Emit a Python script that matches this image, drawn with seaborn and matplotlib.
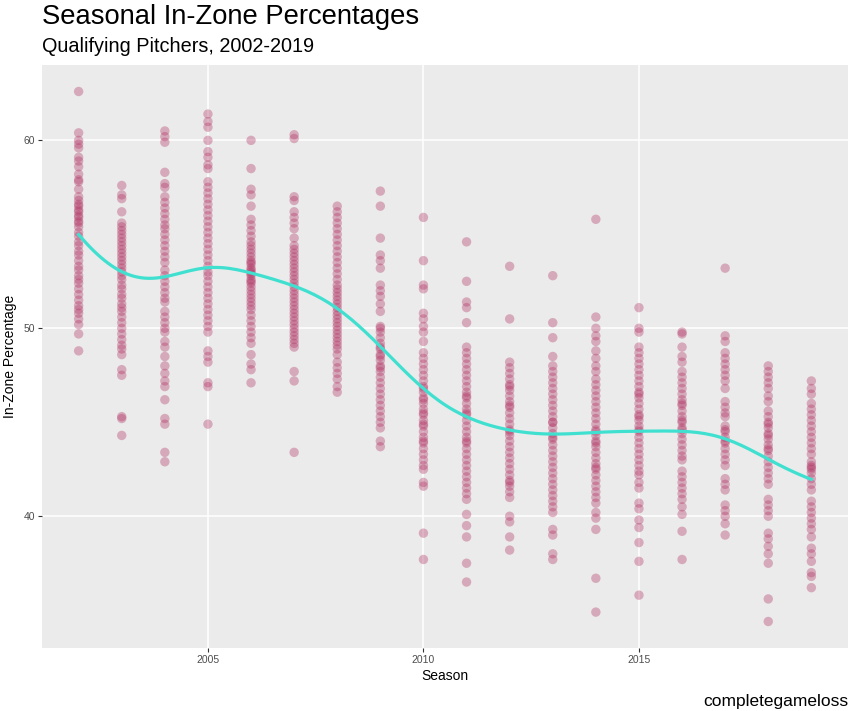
import numpy as np
import pandas as pd
import matplotlib
matplotlib.use("Agg")
import matplotlib.pyplot as plt
import seaborn as sns

plt.rcParams["font.family"] = ["Liberation Sans", "DejaVu Sans"]

seasons = list(range(2002, 2020))

zone_2002 = [62.6, 60.4, 60.0, 59.8, 59.6, 59.1, 58.9, 58.6, 58.2, 57.9, 57.8, 57.4, 57.0, 56.8, 56.6, 56.5, 56.3, 56.2, 56.0, 55.9, 55.7, 55.6, 55.4, 55.1, 54.9, 54.6, 54.4, 54.1, 53.9, 53.6, 53.3, 53.1, 52.8, 52.6, 52.4, 52.1, 51.8, 51.5, 51.2, 51.0, 50.8, 50.5, 50.2, 49.7, 48.8]
zone_2003 = [57.6, 57.1, 56.9, 56.2, 55.6, 55.4, 55.2, 55.0, 54.8, 54.6, 54.4, 54.2, 54.0, 53.8, 53.6, 53.4, 53.2, 53.0, 52.8, 52.6, 52.3, 52.1, 51.8, 51.6, 51.3, 51.1, 50.9, 50.6, 50.3, 50.0, 49.7, 49.4, 49.1, 48.9, 48.6, 47.8, 47.5, 45.3, 45.2, 44.3]
zone_2004 = [60.5, 60.2, 59.9, 58.3, 57.7, 57.5, 57.0, 56.7, 56.4, 56.1, 55.8, 55.5, 55.3, 55.0, 54.7, 54.4, 54.1, 53.8, 53.5, 53.1, 52.8, 52.5, 52.2, 51.9, 51.6, 51.4, 50.9, 50.6, 50.3, 50.0, 49.8, 49.3, 49.0, 48.5, 48.0, 47.6, 47.2, 46.9, 46.2, 45.2, 44.9, 43.4, 42.9]
zone_2005 = [61.4, 61.0, 60.7, 60.0, 59.4, 59.1, 58.7, 58.5, 57.8, 57.5, 57.2, 56.9, 56.6, 56.3, 56.0, 55.7, 55.4, 55.1, 54.8, 54.5, 54.2, 53.9, 53.6, 53.3, 53.0, 52.8, 52.5, 52.2, 51.9, 51.6, 51.3, 51.0, 50.7, 50.4, 50.1, 49.8, 48.8, 48.5, 48.2, 47.1, 46.9, 44.9]
zone_2006 = [60.0, 58.5, 57.4, 57.1, 56.5, 55.8, 55.5, 55.2, 54.9, 54.6, 54.4, 54.2, 54.0, 53.8, 53.6, 53.5, 53.4, 53.2, 53.1, 53.0, 52.9, 52.8, 52.6, 52.5, 52.4, 52.2, 52.0, 51.8, 51.6, 51.4, 51.2, 51.0, 50.7, 50.4, 50.1, 49.8, 49.5, 49.2, 48.6, 48.1, 47.8, 47.1]
zone_2007 = [60.3, 60.1, 57.0, 56.8, 56.2, 55.9, 55.6, 55.3, 54.8, 54.4, 54.2, 54.0, 53.8, 53.6, 53.4, 53.2, 53.0, 52.8, 52.6, 52.4, 52.2, 52.0, 51.8, 51.6, 51.4, 51.2, 51.0, 50.8, 50.6, 50.4, 50.2, 50.0, 49.8, 49.6, 49.4, 49.2, 49.0, 47.7, 47.2, 43.4]
zone_2008 = [56.5, 56.2, 55.9, 55.6, 55.3, 55.0, 54.7, 54.4, 54.1, 53.8, 53.5, 53.2, 52.9, 52.6, 52.3, 52.1, 51.9, 51.7, 51.5, 51.3, 51.1, 50.9, 50.7, 50.5, 50.3, 50.1, 49.9, 49.7, 49.5, 49.3, 49.1, 48.9, 48.6, 48.2, 47.9, 47.6, 47.3, 46.9, 46.6]
zone_2009 = [57.3, 56.5, 54.8, 53.9, 53.6, 53.2, 52.3, 52.0, 51.7, 51.3, 50.9, 50.1, 50.0, 49.8, 49.5, 49.2, 49.0, 48.9, 48.6, 48.5, 48.3, 48.0, 47.9, 47.7, 47.4, 47.1, 46.8, 46.5, 46.2, 45.9, 45.6, 45.3, 45.0, 44.7, 44.0, 43.7]
zone_2010 = [55.9, 53.6, 52.3, 52.1, 50.8, 50.5, 50.1, 49.8, 49.3, 48.7, 48.4, 48.1, 47.8, 47.5, 47.2, 46.9, 46.8, 46.6, 46.3, 46.2, 46.0, 45.7, 45.5, 45.4, 45.1, 44.9, 44.8, 44.5, 44.2, 44.0, 43.9, 43.6, 43.3, 43.0, 42.7, 42.5, 41.8, 41.6, 39.1, 37.7]
zone_2011 = [54.6, 52.5, 51.4, 51.1, 50.3, 49.0, 48.7, 48.4, 48.1, 47.8, 47.5, 47.2, 46.9, 46.6, 46.4, 46.3, 46.0, 45.7, 45.5, 45.4, 45.1, 44.8, 44.5, 44.2, 44.0, 43.9, 43.6, 43.3, 43.0, 42.7, 42.4, 42.1, 41.8, 41.5, 41.2, 40.9, 40.1, 39.5, 38.9, 37.5, 36.5]
zone_2012 = [53.3, 50.5, 48.2, 47.9, 47.6, 47.3, 47.0, 46.9, 46.7, 46.4, 46.1, 45.9, 45.8, 45.5, 45.2, 44.9, 44.6, 44.5, 44.3, 44.0, 43.7, 43.4, 43.1, 42.8, 42.5, 42.2, 41.9, 41.8, 41.6, 41.3, 41.0, 40.0, 39.7, 38.9, 38.2]
zone_2013 = [52.8, 50.3, 49.5, 48.5, 48.0, 47.7, 47.4, 47.1, 46.8, 46.5, 46.2, 45.9, 45.6, 45.3, 45.0, 45.0, 44.7, 44.4, 44.2, 44.1, 43.8, 43.5, 43.2, 42.9, 42.6, 42.3, 42.0, 41.7, 41.4, 41.1, 40.8, 40.5, 40.2, 39.3, 39.0, 38.0, 37.7]
zone_2014 = [55.8, 50.6, 50.0, 49.6, 49.3, 48.8, 48.4, 48.0, 47.7, 47.3, 47.0, 46.7, 46.4, 46.1, 45.8, 45.5, 45.2, 44.9, 44.6, 44.5, 44.3, 44.0, 43.9, 43.7, 43.4, 43.1, 42.8, 42.6, 42.5, 42.2, 41.9, 41.6, 41.3, 41.0, 40.7, 40.2, 39.9, 39.3, 36.7, 34.9]
zone_2015 = [51.1, 50.0, 49.8, 49.0, 48.7, 48.4, 48.1, 47.8, 47.5, 47.2, 46.9, 46.6, 46.5, 46.3, 46.0, 45.7, 45.4, 45.3, 45.1, 44.8, 44.6, 44.5, 44.2, 43.9, 43.6, 43.3, 43.0, 42.7, 42.4, 42.2, 41.8, 41.5, 40.7, 40.4, 39.8, 39.4, 38.6, 37.6, 35.8]
zone_2016 = [49.8, 49.7, 49.0, 48.5, 48.2, 47.7, 47.4, 47.1, 46.8, 46.5, 46.2, 46.0, 45.9, 45.6, 45.3, 45.1, 45.0, 44.7, 44.6, 44.4, 44.1, 43.8, 43.5, 43.2, 43.0, 42.4, 42.1, 41.8, 41.5, 41.2, 40.9, 40.5, 40.1, 39.2, 37.7]
zone_2017 = [53.2, 49.6, 49.3, 48.7, 48.4, 48.1, 47.8, 47.5, 47.2, 46.8, 46.1, 45.8, 45.5, 45.3, 44.8, 44.6, 44.5, 44.2, 44.0, 43.9, 43.6, 43.3, 43.0, 42.7, 42.0, 41.7, 41.4, 40.6, 40.3, 40.0, 39.6, 39.0]
zone_2018 = [48.0, 47.7, 47.4, 47.1, 46.8, 46.4, 46.1, 45.6, 45.3, 45.0, 44.9, 44.7, 44.4, 44.3, 44.1, 43.8, 43.6, 43.5, 43.2, 42.9, 42.6, 42.3, 42.0, 41.7, 40.9, 40.6, 40.3, 40.0, 39.1, 38.8, 38.4, 38.0, 37.5, 35.6, 34.4]
zone_2019 = [47.2, 46.8, 46.5, 46.0, 45.7, 45.4, 45.1, 44.8, 44.5, 44.2, 43.9, 43.6, 43.3, 42.9, 42.7, 42.6, 42.5, 42.3, 42.0, 41.7, 41.4, 40.8, 40.5, 40.2, 39.9, 39.6, 39.3, 38.9, 38.3, 38.0, 37.6, 37.0, 36.8, 36.2]

zone_by_season = [zone_2002, zone_2003, zone_2004, zone_2005, zone_2006, zone_2007,
                  zone_2008, zone_2009, zone_2010, zone_2011, zone_2012, zone_2013,
                  zone_2014, zone_2015, zone_2016, zone_2017, zone_2018, zone_2019]

df = pd.DataFrame({
    "Season": np.concatenate([[s] * len(v) for s, v in zip(seasons, zone_by_season)]),
    "Zone": np.concatenate(zone_by_season),
})

# local linear smoother of the data (stand-in for geom_smooth)
x = df["Season"].to_numpy(float)
y = df["Zone"].to_numpy(float)
grid = np.linspace(x.min(), x.max(), 200)
bw = 0.85
fit = []
for g in grid:
    w = np.exp(-0.5 * ((x - g) / bw) ** 2)
    X = np.column_stack([np.ones_like(x), x - g])
    W = X * w[:, None]
    beta = np.linalg.solve(X.T @ W, W.T @ y)
    fit.append(beta[0])
smooth = pd.DataFrame({"Season": grid, "Zone": np.array(fit)})

W_PX, H_PX = 852, 711
fig = plt.figure(figsize=(W_PX / 100, H_PX / 100), dpi=100)
fig.patch.set_facecolor("white")
ax = fig.add_axes([42 / W_PX, 1 - 648 / H_PX, 806 / W_PX, 583 / H_PX])
ax.set_facecolor("#EBEBEB")

sns.scatterplot(data=df, x="Season", y="Zone", ax=ax, color="#B03060", alpha=0.35,
                s=46, edgecolor="none", zorder=3)
sns.lineplot(data=smooth, x="Season", y="Zone", ax=ax, color="#40E0D0", linewidth=2.3,
             zorder=4)

xr = x.max() - x.min()
yr = y.max() - y.min()
ax.set_xlim(x.min() - 0.05 * xr, x.max() + 0.05 * xr)
ax.set_ylim(y.min() - 0.05 * yr, y.max() + 0.05 * yr)
ax.set_xticks([2005, 2010, 2015])
ax.set_yticks([40, 50, 60])
ax.set_xticklabels(["2005", "2010", "2015"])
ax.set_yticklabels(["40", "50", "60"])
ax.grid(True, color="white", linewidth=1.1, zorder=0)
ax.set_axisbelow(True)
for sp in ax.spines.values():
    sp.set_visible(False)
ax.tick_params(axis="both", length=3, width=0.8, color="#333333", labelcolor="#4D4D4D",
               labelsize=7.5, pad=2)

ax.set_xlabel("Season", fontsize=10, color="black", labelpad=3)
ax.set_ylabel("In-Zone Percentage", fontsize=10, color="black", labelpad=5)

fig.text(42 / W_PX, 1 - 4 / H_PX, "Seasonal In-Zone Percentages", fontsize=19.7,
         ha="left", va="top", color="black")
fig.text(42 / W_PX, 1 - 37 / H_PX, "Qualifying Pitchers, 2002-2019", fontsize=14.3,
         ha="left", va="top", color="black")
fig.text(848 / W_PX, 1 - 706 / H_PX, "completegameloss", fontsize=12.5,
         ha="right", va="baseline", color="black")

fig.savefig("out.png", dpi=100)
